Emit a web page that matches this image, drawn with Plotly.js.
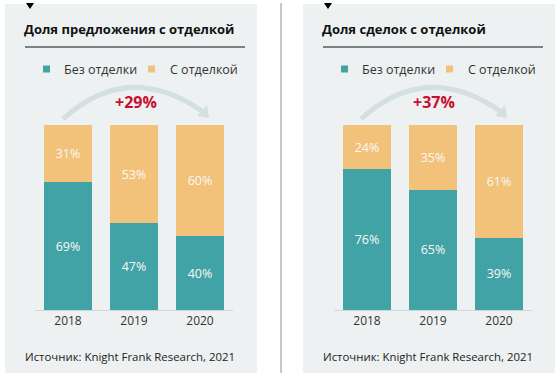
<!DOCTYPE html>
<html>
<head>
<meta charset="utf-8">
<script src="https://cdn.plot.ly/plotly-3.0.1.min.js"></script>
<style>html,body{margin:0;padding:0;background:#fff;}#chart{width:560px;height:378px;}</style>
</head>
<body>
<div id="chart"></div>
<script>
// ---- data ----
const years = ['2018', '2019', '2020'];
const offerNoFinish = [69, 47, 40];
const offerFinish = [31, 53, 60];
const dealsNoFinish = [76, 65, 39];
const dealsFinish = [24, 35, 61];
const seriesNames = ['Без отделки', 'С отделкой'];
const panelTitles = ['Доля предложения с отделкой', 'Доля сделок с отделкой'];
const growthLabels = ['+29%', '+37%'];
const sourceText = 'Источник: Knight Frank Research, 2021';

// ---- styles ----
const W = 560, H = 378;
const TEAL = '#41a3a5', ORANGE = '#f2c27b', PANEL = '#eef1f1', RED = '#c8102e', ARC = '#d4dfdf';
const FONT = '"Open Sans", "Noto Sans", sans-serif';
const px = x => x / W, py = y => 1 - y / H;

function barTrace(y, color, name, xa, ya) {
  return {
    type: 'bar', x: years, y: y, name: name, xaxis: xa, yaxis: ya,
    marker: {color: color, line: {width: 0}},
    text: y.map(v => v + '%'), textposition: 'inside', insidetextanchor: 'middle',
    textfont: {color: '#f8f8f8', size: 12.5, family: FONT},
    hoverinfo: 'skip', showlegend: false, cliponaxis: false
  };
}

const data = [
  barTrace(offerNoFinish, TEAL, seriesNames[0], 'x', 'y'),
  barTrace(offerFinish, ORANGE, seriesNames[1], 'x', 'y'),
  barTrace(dealsNoFinish, TEAL, seriesNames[0], 'x2', 'y2'),
  barTrace(dealsFinish, ORANGE, seriesNames[1], 'x2', 'y2')
];

const shapes = [];
const annotations = [];
const offsets = [0, 298];

function rectPx(x0, y0, x1, y1, color, layer) {
  shapes.push({type: 'rect', xref: 'paper', yref: 'paper', x0: px(x0), x1: px(x1), y0: py(y1), y1: py(y0),
    fillcolor: color, line: {width: 0}, layer: layer || 'below'});
}
function pathPx(pts, close) {
  let d = '';
  pts.forEach((p, i) => {
    if (p[0] === 'Q') d += ' Q ' + px(p[1]) + ',' + py(p[2]) + ' ' + px(p[3]) + ',' + py(p[4]);
    else d += (i === 0 ? 'M ' : ' L ') + px(p[0]) + ',' + py(p[1]);
  });
  return d + (close ? ' Z' : '');
}

offsets.forEach((o, i) => {
  // panel background
  rectPx(5 + o, 4, 257 + o, 373, PANEL, 'below');
  // small black triangle
  shapes.push({type: 'path', xref: 'paper', yref: 'paper', layer: 'above',
    path: pathPx([[26 + o, 3], [34 + o, 3], [30 + o, 9]], true), fillcolor: '#000', line: {width: 0}});
  // title underline
  shapes.push({type: 'line', xref: 'paper', yref: 'paper', x0: px(25 + o), x1: px(245 + o), y0: py(47), y1: py(47),
    line: {color: '#111', width: 1}});
  // title
  annotations.push({xref: 'paper', yref: 'paper', x: px(22 + o), y: py(29), xanchor: 'left', yanchor: 'middle',
    text: '<b>' + panelTitles[i] + '</b>', showarrow: false, font: {family: FONT, size: 13, color: '#111'}});
  // legend
  const lx = [[43, 62], [148, 168]];
  lx.forEach((l, j) => {
    rectPx(l[0] + o, 65.5, l[0] + 7 + o, 72.5, j === 0 ? TEAL : ORANGE, 'above');
    annotations.push({xref: 'paper', yref: 'paper', x: px(l[1] + o), y: py(69), xanchor: 'left', yanchor: 'middle',
      text: seriesNames[j], showarrow: false, font: {family: FONT, size: 12.5, color: '#333'}});
  });
  // arc
  shapes.push({type: 'path', xref: 'paper', yref: 'paper', layer: 'above',
    path: pathPx([[63 + o, 119], ['Q', 128 + o, 60, 202 + o, 111]]), line: {color: ARC, width: 5}});
  shapes.push({type: 'path', xref: 'paper', yref: 'paper', layer: 'above',
    path: pathPx([[197 + o, 116], [207 + o, 105], [209 + o, 118]], true), fillcolor: ARC, line: {width: 0}});
  // growth label
  annotations.push({xref: 'paper', yref: 'paper', x: px(135.5 + o), y: py(102), xanchor: 'center', yanchor: 'middle',
    text: '<b>' + growthLabels[i] + '</b>', showarrow: false, font: {family: FONT, size: 16, color: RED}});
  // source
  annotations.push({xref: 'paper', yref: 'paper', x: px(130 + o), y: py(356), xanchor: 'center', yanchor: 'middle',
    text: sourceText, showarrow: false, font: {family: FONT, size: 11.4, color: '#222'}});
});

// separator
shapes.push({type: 'line', xref: 'paper', yref: 'paper', x0: px(281), x1: px(281), y0: py(3), y1: py(373),
  line: {color: '#b5b5b5', width: 1.5}});

const xaxisBase = {type: 'category', range: [-0.5, 2.5], showline: true, linecolor: '#d2d6d6', linewidth: 1,
  showgrid: false, zeroline: false, ticks: '', tickfont: {family: FONT, size: 12, color: '#333'}, fixedrange: true};
const yaxisBase = {range: [0, 100], visible: false, showgrid: false, zeroline: false, fixedrange: true};

const layout = {
  width: W, height: H, margin: {l: 0, r: 0, t: 0, b: 0},
  paper_bgcolor: '#ffffff', plot_bgcolor: 'rgba(0,0,0,0)',
  barmode: 'stack', bargap: 0.273, showlegend: false,
  font: {family: FONT},
  xaxis: Object.assign({}, xaxisBase, {domain: [px(35), px(233)], anchor: 'y'}),
  yaxis: Object.assign({}, yaxisBase, {domain: [py(310), py(125)], anchor: 'x'}),
  xaxis2: Object.assign({}, xaxisBase, {domain: [px(334), px(532)], anchor: 'y2'}),
  yaxis2: Object.assign({}, yaxisBase, {domain: [py(310), py(125)], anchor: 'x2'}),
  shapes: shapes, annotations: annotations
};

Plotly.newPlot('chart', data, layout, {staticPlot: true, displayModeBar: false});
</script>
</body>
</html>
